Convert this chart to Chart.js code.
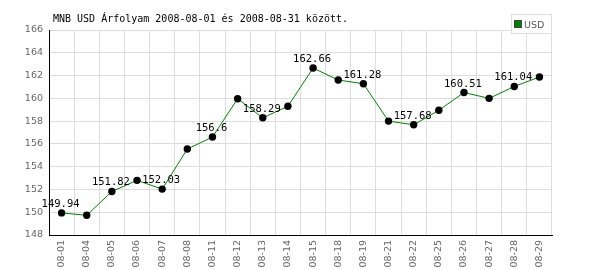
<!DOCTYPE html>
<html>
<head>
<meta charset="utf-8">
<script src="https://cdn.jsdelivr.net/npm/chart.js@4/dist/chart.umd.min.js"></script>
<style>
html,body{margin:0;padding:0;background:#fff;}
#wrap{width:600px;height:270px;}
</style>
</head>
<body>
<div id="wrap"><canvas id="c" width="600" height="270"></canvas></div>
<script>
const chartTitle = 'MNB USD Árfolyam 2008-08-01 és 2008-08-31 között.';
const seriesName = 'USD';
const categories = ['08-01','08-04','08-05','08-06','08-07','08-08','08-11','08-12','08-13','08-14','08-15','08-18','08-19','08-21','08-22','08-25','08-26','08-27','08-28','08-29'];
const usdValues = [149.94,149.73,151.82,152.80,152.03,155.55,156.6,159.97,158.29,159.30,162.66,161.61,161.28,158.00,157.68,158.95,160.51,160.00,161.04,161.87];
const yTicks = [148,150,152,154,156,158,160,162,164,166];

const overlay = {
  id: 'overlay',
  afterDatasetsDraw(chart) {
    const ctx = chart.ctx;
    const meta = chart.getDatasetMeta(0);
    ctx.save();
    ctx.font = '10.5px "DejaVu Sans Mono"';
    ctx.fillStyle = '#000';
    ctx.textAlign = 'center';
    ctx.textBaseline = 'alphabetic';
    meta.data.forEach((pt, i) => {
      if (i % 2 === 0) {
        ctx.fillText(String(chart.data.datasets[0].data[i]), pt.x - 1, pt.y - 6);
      }
    });
    ctx.restore();
  },
  afterDraw(chart) {
    const ctx = chart.ctx;
    const area = chart.chartArea;
    ctx.save();
    ctx.font = '10px "DejaVu Sans Mono"';
    ctx.fillStyle = '#000';
    ctx.textAlign = 'left';
    ctx.textBaseline = 'alphabetic';
    ctx.fillText(chartTitle, 53, 22);
    const bx = Math.round(area.right) - 41, by = 14, bw = 41, bh = 20;
    ctx.fillStyle = '#fff';
    ctx.fillRect(bx, by, bw, bh);
    ctx.strokeStyle = '#dddddd';
    ctx.lineWidth = 1;
    ctx.strokeRect(bx + 0.5, by + 0.5, bw - 1, bh - 1);
    ctx.fillStyle = 'rgb(0,128,0)';
    ctx.fillRect(bx + 4, by + 7, 6, 6);
    ctx.strokeStyle = '#444';
    ctx.strokeRect(bx + 3.5, by + 6.5, 7, 7);
    ctx.font = '9.5px "DejaVu Sans"';
    ctx.fillStyle = '#555';
    ctx.fillText(chart.data.datasets[0].label, bx + 13, by + 14);
    ctx.restore();
  }
};

new Chart(document.getElementById('c'), {
  type: 'line',
  data: {
    labels: categories,
    datasets: [{
      label: seriesName,
      data: usdValues,
      borderColor: 'rgb(0,128,0)',
      borderWidth: 1,
      backgroundColor: '#000',
      pointBackgroundColor: '#000',
      pointBorderColor: '#000',
      pointBorderWidth: 0,
      pointRadius: 3.7,
      tension: 0,
      fill: false
    }]
  },
  options: {
    responsive: false,
    animation: false,
    devicePixelRatio: 1,
    layout: { padding: { top: 30, right: 48, left: 0, bottom: 0 } },
    plugins: { legend: { display: false }, title: { display: false }, tooltip: { enabled: false } },
    scales: {
      x: {
        type: 'category',
        offset: true,
        grid: { offset: true, color: '#dddddd', drawTicks: false },
        border: { color: '#000', width: 1 },
        ticks: {
          minRotation: 90, maxRotation: 90, autoSkip: false, padding: 5,
          color: '#666', font: { family: 'DejaVu Sans', size: 9.5 }
        },
        afterFit(scale) { scale.height = 35; }
      },
      y: {
        min: 148, max: 166,
        grid: { color: '#dddddd', drawTicks: false },
        border: { color: '#000', width: 1 },
        afterBuildTicks(scale) { scale.ticks = yTicks.map(v => ({ value: v })); },
        ticks: { padding: 6, color: '#666', font: { family: 'DejaVu Sans', size: 9.5 } },
        afterFit(scale) { scale.width = 49; }
      }
    }
  },
  plugins: [overlay]
});
</script>
</body>
</html>
